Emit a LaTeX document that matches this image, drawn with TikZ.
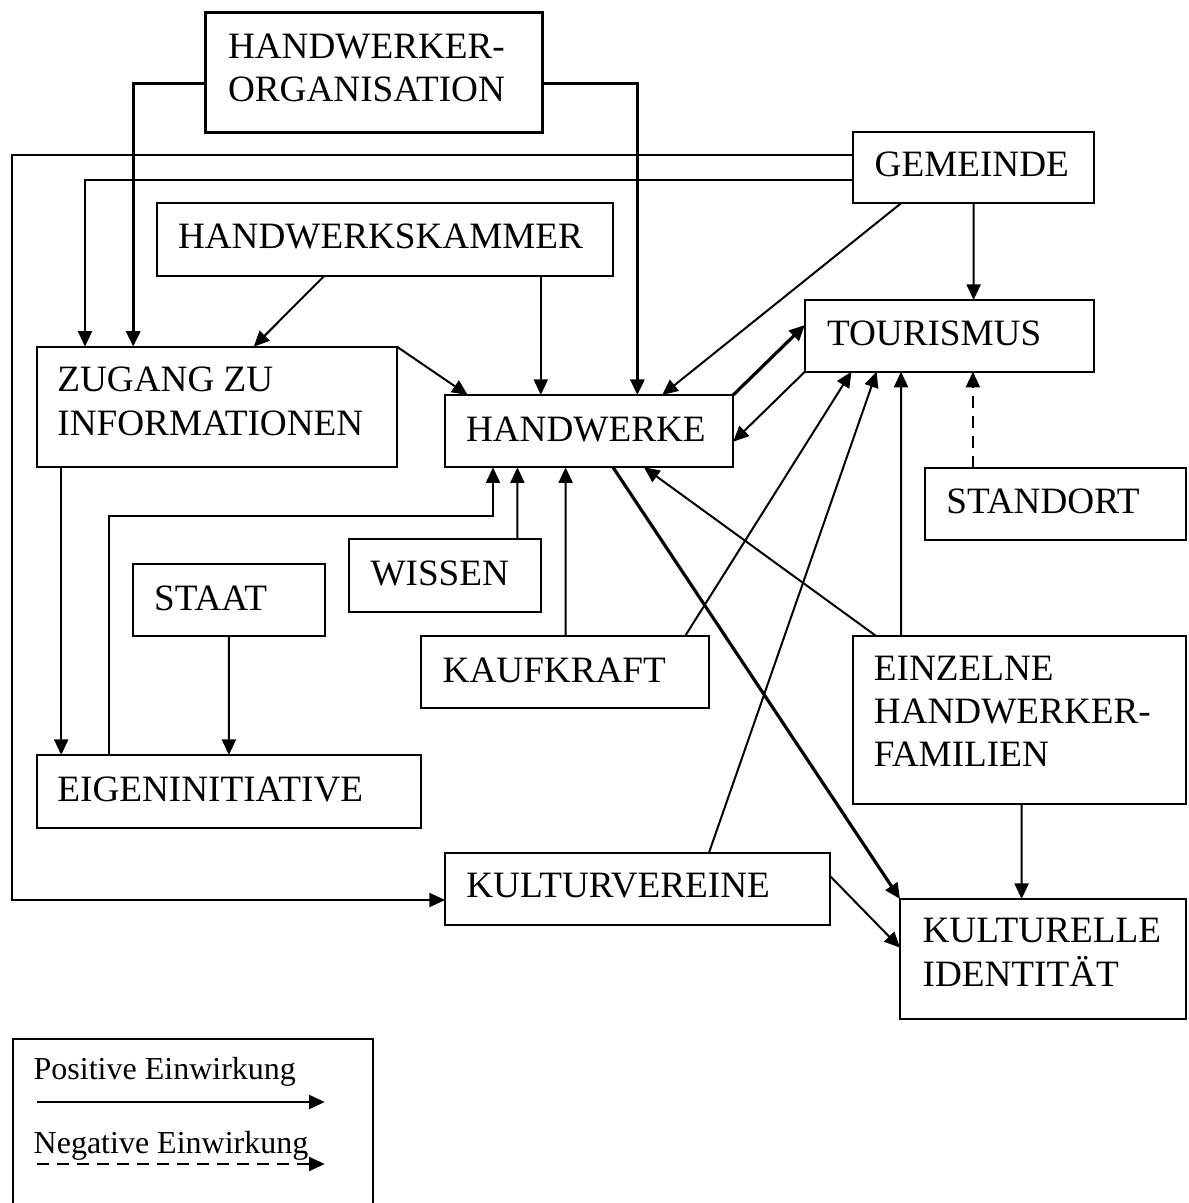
\documentclass[tikz,border=0pt]{standalone}
\usepackage{fontspec}
\setmainfont{Liberation Serif}
\usetikzlibrary{arrows.meta}
\begin{document}
\begin{tikzpicture}[x=0.5pt,y=-0.5pt,
  box/.style={draw, line width=1pt, inner sep=0pt, outer sep=0pt, anchor=north west},
  lbl/.style={anchor=base west, inner sep=0pt, outer sep=0pt, font=\fontsize{18.6}{21.6}\selectfont},
  leg/.style={anchor=base west, inner sep=0pt, outer sep=0pt, font=\fontsize{16}{19}\selectfont},
  arr/.style={line width=1pt, -{Triangle[length=7.8pt,width=7pt]}},
  thk/.style={line width=1.6pt},
  neg/.style={dash pattern=on 6pt off 4pt}]
\useasboundingbox (0,0) rectangle (1188,1203);
% boxes
\node[box,line width=1.6pt,minimum width=168.6pt,minimum height=60pt] (ho) at (205.5,12.7) {};
\node[box,minimum width=120.7pt,minimum height=35.8pt] (gem) at (852.6,131.7) {};
\node[box,minimum width=228pt,minimum height=36.2pt] (hwk) at (157,203.3) {};
\node[box,minimum width=144.45pt,minimum height=35.85pt] (tour) at (804.9,300) {};
\node[box,minimum width=180.1pt,minimum height=60.3pt] (zug) at (36.7,346.7) {};
\node[box,minimum width=144.25pt,minimum height=36.15pt] (hnd) at (444.7,395) {};
\node[box,minimum width=130.5pt,minimum height=36pt] (stand) at (925,468) {};
\node[box,minimum width=96.1pt,minimum height=36.2pt] (wis) at (349,539.3) {};
\node[box,minimum width=96.25pt,minimum height=36pt] (staat) at (132.8,564) {};
\node[box,minimum width=143.75pt,minimum height=36pt] (kauf) at (421,636.2) {};
\node[box,minimum width=166.35pt,minimum height=83.9pt] (einz) at (853.3,636.2) {};
\node[box,minimum width=192.35pt,minimum height=36.35pt] (eig) at (36.7,755) {};
\node[box,minimum width=192.3pt,minimum height=36.05pt] (kv) at (445,852.6) {};
\node[box,minimum width=143.2pt,minimum height=59.75pt] (ki) at (900,899) {};
\node[box,minimum width=180.15pt,minimum height=100pt] (legend) at (12.7,1039) {};
% labels
\node[lbl] (ho1) at ([shift={(22.5,45.6)}]ho.north west) {HANDWERKER-};
\node[lbl] (ho2) at ([shift={(22.5,89)}]ho.north west) {ORGANISATION};
\node[lbl] (gemt) at ([shift={(22.1,45)}]gem.north west) {GEMEINDE};
\node[lbl] (hwkt) at ([shift={(21,45)}]hwk.north west) {HANDWERKSKAMMER};
\node[lbl] (tourt) at ([shift={(22.1,45)}]tour.north west) {TOURISMUS};
\node[lbl] (zug1) at ([shift={(20.7,45)}]zug.north west) {ZUGANG ZU};
\node[lbl] (zug2) at ([shift={(20.7,88.3)}]zug.north west) {INFORMATIONEN};
\node[lbl] (hndt) at ([shift={(21.3,46.7)}]hnd.north west) {HANDWERKE};
\node[lbl] (standt) at ([shift={(21.4,45.3)}]stand.north west) {STANDORT};
\node[lbl] (wist) at ([shift={(21.5,46.4)}]wis.north west) {WISSEN};
\node[lbl] (staatt) at ([shift={(21.4,46)}]staat.north west) {STAAT};
\node[lbl] (kauft) at ([shift={(21.7,45.8)}]kauf.north west) {KAUFKRAFT};
\node[lbl] (einz1) at ([shift={(20.6,44.4)}]einz.north west) {EINZELNE};
\node[lbl] (einz2) at ([shift={(20.6,87.3)}]einz.north west) {HANDWERKER-};
\node[lbl] (einz3) at ([shift={(20.6,130.2)}]einz.north west) {FAMILIEN};
\node[lbl] (eigt) at ([shift={(20.7,46.7)}]eig.north west) {EIGENINITIATIVE};
\node[lbl] (kvt) at ([shift={(21.3,45.2)}]kv.north west) {KULTURVEREINE};
\node[lbl] (ki1) at ([shift={(22.6,43.7)}]ki.north west) {KULTURELLE};
\node[lbl] (ki2) at ([shift={(22.6,87)}]ki.north west) {IDENTITÄT};
\node[leg] (pos) at ([shift={(21,40)}]legend.north west) {Positive Einwirkung};
\node[leg] (negt) at ([shift={(21,114.5)}]legend.north west) {Negative Einwirkung};
% connectors
\draw[arr,thk] ([shift={(0,10.6)}]ho.west) -| ([shift={(96.5,0)}]zug.north west);
\draw[arr,thk] ([shift={(0,10.6)}]ho.east) -| ([shift={(192.7,0)}]hnd.north west);
\draw[arr] ([shift={(0,-12.2)}]gem.west) -- ++(-841.1,0) |- ([shift={(0,11.35)}]kv.west);
\draw[arr] ([shift={(0,12.5)}]gem.west) -| ([shift={(48.3,0)}]zug.north west);
\draw[arr] ([shift={(48.4,0)}]gem.south west) -- ([shift={(217.5,0)}]hnd.north west);
\draw[arr] ([shift={(121,0)}]gem.south west) -- ([shift={(168.7,0)}]tour.north west);
\draw[arr] ([shift={(167.5,0)}]hwk.south west) -- ([shift={(217,0)}]zug.north west);
\draw[arr] ([shift={(383.8,0)}]hwk.south west) -- ([shift={(96.1,0)}]hnd.north west);
\draw[arr] (zug.north east) -- ([shift={(23,0)}]hnd.north west);
\draw[arr,thk] (hnd.north east) -- ([shift={(0,25)}]tour.north west);
\draw[arr] (tour.south west) -- ([shift={(0,46.7)}]hnd.north east);
\draw[arr,neg] ([shift={(47.9,0)}]stand.north west) -- ([shift={(168,0)}]tour.south west);
\draw[arr] ([shift={(72.3,0)}]eig.north west) -- ++(0,-239) -| ([shift={(48.3,0)}]hnd.south west);
\draw[arr] ([shift={(168.4,0)}]wis.north west) -- ([shift={(72.7,0)}]hnd.south west);
\draw[arr] ([shift={(144.6,0)}]kauf.north west) -- ([shift={(120.9,0)}]hnd.south west);
\draw[arr] ([shift={(264,0)}]kauf.north west) -- ([shift={(46.5,0)}]tour.south west);
\draw[arr] ([shift={(264,0)}]kv.north west) -- ([shift={(71.7,0)}]tour.south west);
\draw[arr] ([shift={(47.7,0)}]einz.north west) -- ([shift={(96.1,0)}]tour.south west);
\draw[arr] ([shift={(23.1,0)}]einz.north west) -- ([shift={(199.3,0)}]hnd.south west);
\draw[arr,thk] ([shift={(168.3,0)}]hnd.south west) -- (ki.north west);
\draw[arr] ([shift={(0,23)}]kv.north east) -- ([shift={(0,48.7)}]ki.north west);
\draw[arr] ([shift={(168.3,0)}]einz.south west) -- ([shift={(121.6,0)}]ki.north west);
\draw[arr] ([shift={(96.1,0)}]staat.south west) -- ([shift={(192.2,0)}]eig.north west);
\draw[arr] ([shift={(24.5,0)}]zug.south west) -- ([shift={(24.5,0)}]eig.north west);
% legend samples
\coordinate (ps) at ([shift={(24,63)}]legend.north west);
\coordinate (pe) at ([shift={(312,63)}]legend.north west);
\coordinate (ns) at ([shift={(24,125)}]legend.north west);
\coordinate (ne) at ([shift={(312,125)}]legend.north west);
\draw[arr] (ps) -- (pe);
\draw[arr,neg] (ns) -- (ne);
\end{tikzpicture}
\end{document}
